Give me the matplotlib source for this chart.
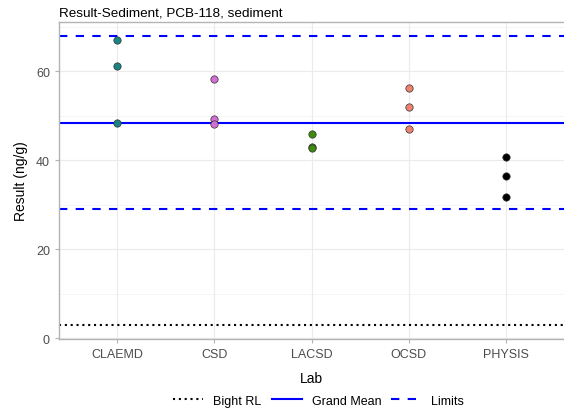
import numpy as np
import matplotlib
matplotlib.use("Agg")
import matplotlib.pyplot as plt
from matplotlib.lines import Line2D

plt.rcParams['font.family'] = ['Liberation Sans', 'DejaVu Sans']

# lab results (ng/g)
labs = ["CLAEMD", "CSD", "LACSD", "OCSD", "PHYSIS"]
claemd = [67.0, 61.2, 48.4]
csd = [58.3, 49.3, 48.1]
lacsd = [45.9, 43.1, 42.8]
ocsd = [56.2, 52.0, 47.0]
physis = [40.8, 36.5, 31.8]
lab_colors = ["#1a8383", "#d36fd3", "#3f8a0c", "#ef8170", "#000000"]

grand_mean = 48.5
upper_limit = 67.9
lower_limit = 29.1
bight_rl = 3.0

dotted = (0, (1, 1.8))
dashed = (0, (4, 4))

fig = plt.figure(figsize=(5.64, 4.14), dpi=100)
ax = fig.add_axes([59 / 564, 74 / 414, 505 / 564, 317 / 414])

# grid like ggplot theme_light
for y in [10, 30, 50, 70]:
    ax.axhline(y, color="#f2f2f2", linewidth=0.5, zorder=0)
for y in [0, 20, 40, 60]:
    ax.axhline(y, color="#ebebeb", linewidth=0.8, zorder=0)
for i in range(len(labs)):
    ax.axvline(i + 1, color="#ebebeb", linewidth=0.8, zorder=0)

ax.axhline(bight_rl, color="black", linestyle=dotted, linewidth=1.5, zorder=2)
ax.axhline(grand_mean, color="#0000ff", linewidth=1.5, zorder=2)
ax.axhline(upper_limit, color="#0000ff", linestyle=dashed, linewidth=1.5, zorder=2)
ax.axhline(lower_limit, color="#0000ff", linestyle=dashed, linewidth=1.5, zorder=2)

for i, vals in enumerate([claemd, csd, lacsd, ocsd, physis]):
    ax.scatter([i + 1] * len(vals), vals, s=28, color=lab_colors[i],
               edgecolors="#333333", linewidths=0.5, zorder=3)

ax.set_xlim(0.4, 5.6)
ax.set_ylim(-0.15, 71.1)
ax.set_xticks(range(1, len(labs) + 1))
ax.set_xticklabels(labs)
ax.set_yticks([0, 20, 40, 60])
ax.tick_params(colors="#b3b3b3", labelcolor="#4d4d4d", labelsize=9, length=3, width=0.8)

for side in ["left", "bottom", "top"]:
    ax.spines[side].set_color("#b3b3b3")
    ax.spines[side].set_linewidth(1.0)
ax.spines["right"].set_visible(False)

ax.set_xlabel("Lab", fontsize=10, labelpad=8)
ax.set_ylabel("Result (ng/g)", fontsize=10, labelpad=6)
ax.set_title("Result-Sediment, PCB-118, sediment", fontsize=9.7, loc="left", pad=5)

handles = [
    Line2D([], [], color="black", linestyle=dotted, linewidth=1.5),
    Line2D([], [], color="#0000ff", linewidth=1.5),
    Line2D([], [], color="#0000ff", linestyle=dashed, linewidth=1.5),
]
fig.legend(handles, ["Bight RL", "Grand Mean", "Limits"], loc="center",
           bbox_to_anchor=(0.565, 0.03), ncol=3, frameon=False, fontsize=9,
           handlelength=2.4, handletextpad=0.8, columnspacing=0.8)

fig.savefig("out.png", dpi=100)
